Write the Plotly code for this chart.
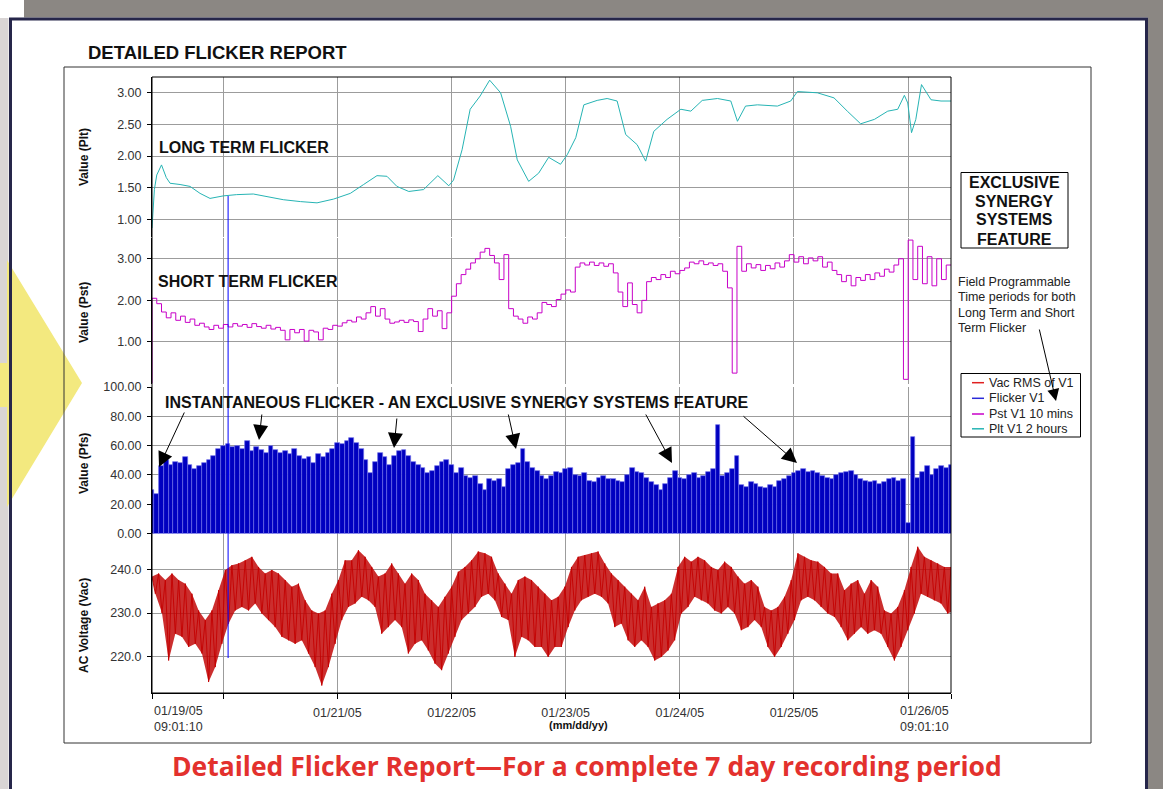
import plotly.graph_objects as go
from datetime import datetime, timedelta

W, H = 1163, 789
START = datetime(2005, 1, 19, 9, 1, 10)
SPAN_H = 168

# ------------------------------------------------------------------ data
# Long term flicker (Plt, 2 hour window) - hours after start / value
plt_hours = [0, 0.5, 1, 2, 3, 3.8, 5.9, 8, 10.1, 12.2, 15, 17.8, 21.3, 24.1, 27.6, 31.2,
             34.7, 38.2, 41.7, 44.5, 47.3, 49.4, 51.5, 54, 57.1, 60.1, 62.4, 63.4, 65.2,
             66.9, 69, 71, 73.3, 75.4, 76.8, 79.2, 81.3, 83.4, 85.9, 87.3, 89.1, 90.8,
             93.6, 95.7, 97.8, 99.6, 102.0, 103.8, 105.5, 108.3, 111.2, 113.3, 115.7,
             118.9, 121.7, 123.1, 124.8, 127.3, 131.5, 134.3, 135.7, 139.9, 143.4, 146.2,
             149.0, 151.9, 154.7, 156.8, 158.2, 158.9, 159.7, 160.6, 161.8, 163.8, 165.9, 168]
plt_values = [0.86, 1.47, 1.70, 1.86, 1.66, 1.57, 1.55, 1.52, 1.41, 1.33, 1.37, 1.39, 1.40,
              1.36, 1.31, 1.28, 1.26, 1.32, 1.41, 1.55, 1.69, 1.68, 1.52, 1.44, 1.47, 1.69,
              1.53, 1.62, 2.10, 2.74, 2.95, 3.20, 3.00, 2.47, 1.94, 1.60, 1.73, 1.98, 1.87,
              2.02, 2.29, 2.81, 2.88, 2.91, 2.87, 2.34, 2.18, 1.92, 2.39, 2.58, 2.74, 2.71,
              2.88, 2.91, 2.87, 2.55, 2.79, 2.81, 2.79, 2.87, 3.02, 3.00, 2.92, 2.71, 2.51,
              2.58, 2.71, 2.74, 2.96, 2.84, 2.37, 2.58, 3.13, 2.89, 2.87, 2.87]

# Short term flicker (Pst, 10 min) - one reading per hour from start
pst_values = [
    0.00, 2.05, 1.92, 1.72, 1.58, 1.70, 1.52, 1.62, 1.47, 1.55,
    1.40, 1.45, 1.36, 1.30, 1.40, 1.33, 1.42, 1.36, 1.44, 1.38,
    1.42, 1.35, 1.44, 1.37, 1.33, 1.40, 1.31, 1.35, 1.28, 1.05,
    1.30, 1.22, 1.30, 1.02, 1.28, 1.24, 1.05, 1.33, 1.30, 1.40,
    1.38, 1.46, 1.52, 1.48, 1.60, 1.55, 1.70, 1.85, 1.62, 1.80,
    1.55, 1.45, 1.48, 1.52, 1.47, 1.53, 1.49, 1.25, 1.55, 1.80,
    1.62, 1.75, 1.32, 1.70, 2.10, 2.40, 2.62, 2.75, 2.90, 3.00,
    3.16, 3.25, 3.08, 2.90, 2.50, 3.10, 1.80, 1.62, 1.55, 1.45,
    1.60, 1.55, 1.70, 1.95, 1.90, 1.85, 2.02, 2.15, 2.25, 2.20,
    2.80, 2.90, 2.85, 2.92, 2.84, 2.90, 2.82, 2.88, 2.66, 2.20,
    1.85, 2.42, 1.90, 1.70, 2.00, 2.45, 2.55, 2.50, 2.62, 2.55,
    2.70, 2.64, 2.72, 2.78, 2.92, 2.88, 2.95, 2.86, 2.90, 2.84,
    2.88, 2.70, 2.30, 0.25, 3.30, 2.70, 2.88, 2.78, 2.86, 2.72,
    2.84, 2.76, 2.90, 2.80, 2.95, 3.10, 2.92, 3.05, 2.88, 3.02,
    2.95, 3.05, 2.80, 2.92, 2.72, 2.62, 2.45, 2.60, 2.35, 2.55,
    2.48, 2.62, 2.50, 2.66, 2.58, 2.75, 2.68, 2.85, 3.00, 0.10,
    3.45, 2.50, 3.30, 2.40, 3.05, 2.35, 3.00, 2.50, 2.85]

# Instantaneous flicker (Pfs) - one bar per hour from start
pfs_values = [
    30, 27, 46, 50, 47, 49, 48, 52, 47, 44,
    46, 48, 50, 53, 58, 60, 61, 59, 60, 58,
    63, 56, 59, 57, 55, 60, 57, 55, 56, 54,
    58, 53, 51, 52, 48, 54, 52, 55, 58, 62,
    61, 63, 65, 62, 58, 50, 41, 49, 55, 52,
    47, 53, 56, 57, 53, 49, 47, 45, 41, 43,
    46, 49, 50, 47, 41, 45, 39, 38, 39, 34,
    30, 37, 36, 37, 32, 44, 47, 48, 58, 49,
    45, 43, 39, 37, 39, 42, 41, 44, 45, 40,
    39, 41, 36, 35, 38, 39, 37, 37, 36, 35,
    40, 45, 42, 41, 38, 35, 33, 30, 34, 38,
    43, 38, 37, 40, 41, 38, 39, 42, 44, 74,
    39, 41, 44, 53, 33, 32, 35, 34, 32, 31,
    33, 32, 36, 37, 39, 41, 43, 44, 42, 43,
    41, 39, 38, 37, 40, 41, 42, 43, 40, 37,
    36, 35, 36, 34, 35, 37, 38, 36, 37, 7,
    66, 38, 42, 46, 40, 44, 46, 45, 47]

# AC voltage (Vac RMS) - high / low of each 1.4 h slot across the 7 days
vac_high = [
    238.3, 239.0, 237.5, 239.0, 237.5, 236.7, 234.4, 230.6, 228.4, 230.6,
    235.2, 239.8, 240.9, 241.3, 242.0, 242.8, 240.5, 239.0, 239.8, 239.0,
    237.5, 236.0, 236.7, 232.9, 230.6, 229.9, 230.6, 234.4, 237.5, 242.0,
    242.0, 244.3, 242.8, 240.5, 238.3, 239.0, 241.3, 239.0, 236.7, 239.0,
    237.5, 234.4, 232.9, 231.4, 233.7, 236.0, 239.4, 240.5, 242.0, 244.0,
    243.6, 242.8, 239.0, 236.7, 234.4, 237.5, 238.3, 237.5, 236.0, 234.4,
    232.9,
    233.7, 236.0, 240.5, 242.8, 243.2, 243.6, 244.0, 241.3, 239.0, 237.5,
    236.0, 234.4, 232.9, 236.0, 231.4, 232.2, 232.9, 234.4, 240.5, 242.8,
    241.7, 242.8, 242.0, 240.5, 239.8, 241.7, 240.5, 238.3, 236.7, 237.5,
    236.0, 231.4, 230.6, 231.4, 233.7, 237.5, 243.6, 242.8, 242.0, 241.7,
    240.5, 239.0, 239.0, 235.2, 236.7, 237.5, 234.4, 237.5, 236.0, 230.6,
    229.9, 231.4, 235.2, 240.5, 245.1, 242.8, 242.0, 241.3, 240.5, 240.5]
vac_low = [
    234.4, 230.0, 219.2, 225.3, 224.6, 222.3, 223.0, 220.8, 214.3, 217.7,
    223.0, 227.6, 230.6, 231.4, 230.6, 232.2, 229.9, 228.4, 226.8, 224.6,
    223.8, 223.0, 223.8, 220.8, 217.7, 213.5, 217.7, 223.0, 228.4, 231.4,
    232.2, 233.7, 232.9, 231.4, 225.3, 226.8, 228.4, 226.8, 220.8, 223.0,
    223.8, 221.5, 218.5, 217.0, 220.8, 224.6, 228.4, 229.9, 231.4, 233.7,
    234.4, 232.9, 229.1, 228.4, 220.0, 224.6, 223.8, 222.3, 222.3, 220.0,
    222.3,
    222.3, 226.8, 230.6, 232.9, 233.7, 234.4, 233.7, 232.2, 226.8, 227.6,
    223.8, 222.3, 223.8, 222.3, 219.2, 220.0, 221.5, 223.8, 229.9, 231.4,
    233.7, 232.9, 232.2, 230.6, 229.9, 231.4, 229.9, 226.1, 226.8, 228.4,
    226.8, 222.3, 220.0, 222.3, 225.3, 228.4, 232.9, 233.7, 232.9, 231.4,
    229.9, 229.1, 226.8, 223.8, 225.3, 226.8, 225.3, 226.1, 225.3, 222.3,
    219.2, 222.3, 226.1, 229.9, 234.4, 233.7, 232.9, 232.2, 229.9, 230.6]

# single Flicker V1 excursion crossing all panels (hours after start)
glitch_hour = 16.0

# axis ticks
plt_ticks = [1.00, 1.50, 2.00, 2.50, 3.00]
pst_ticks = [1.00, 2.00, 3.00]
pfs_ticks = [0, 20, 40, 60, 80, 100]
vac_ticks = [220, 230, 240]
day_ticks = ["2005-01-19 09:01:10", "2005-01-20", "2005-01-21", "2005-01-22", "2005-01-23",
             "2005-01-24", "2005-01-25", "2005-01-26", "2005-01-26 09:01:10"]
day_labels = ["", "", "01/21/05", "01/22/05", "01/23/05", "01/24/05", "01/25/05", "", ""]
start_label = "01/19/05<br>09:01:10"
end_label = "01/26/05<br>09:01:10"

series_names = ["Vac RMS of V1", "Flicker V1", "Pst V1 10 mins", "Plt V1 2 hours"]
series_colors = ["#e02020", "#2a2ad8", "#c800c8", "#26b4b4"]

assert len(plt_hours) == len(plt_values)
assert len(pst_values) == SPAN_H + 1 and len(pfs_values) == SPAN_H + 1
assert len(vac_high) == len(vac_low)

# ------------------------------------------------------------------ helpers
def at(h):
    return START + timedelta(hours=h)

def px(x):
    return x / W

def py(y):
    return 1 - y / H

FONT = "Liberation Sans, Arial, sans-serif"
GRID = "#9c9c9c"

# ------------------------------------------------------------------ traces
hours = list(range(SPAN_H + 1))
step = SPAN_H / (len(vac_high) - 1)
hi_t = [at(i * step) for i in range(len(vac_high))]
lo_t = [at(i * step + step / 2) for i in range(len(vac_low))]
vac_x, vac_y = [], []
for th, tl, hi, lo in zip(hi_t, lo_t, vac_high, vac_low):
    vac_x += [th, tl]
    vac_y += [hi, lo]

fig = go.Figure()
# envelope of the rapidly varying RMS voltage
fig.add_trace(go.Scatter(x=hi_t + lo_t[::-1], y=vac_high + vac_low[::-1], mode="lines",
                         fill="toself", fillcolor="rgba(192,0,0,0.82)", line=dict(width=0),
                         hoverinfo="skip", showlegend=False, xaxis="x", yaxis="y"))
fig.add_trace(go.Scatter(x=vac_x, y=vac_y, mode="lines", name=series_names[0],
                         line=dict(color="#c40000", width=0.9), showlegend=False,
                         xaxis="x", yaxis="y"))
fig.add_trace(go.Bar(x=[at(h) for h in hours], y=pfs_values, name=series_names[1],
                     marker=dict(color="#0000c0", line=dict(width=0.7, color="#6a6ae6")),
                     width=3600 * 1000, showlegend=False, xaxis="x2", yaxis="y2"))
fig.add_trace(go.Scatter(x=[at(h) for h in hours], y=pst_values, mode="lines",
                         name=series_names[2], line=dict(color="#c800c8", width=1, shape="vh"),
                         showlegend=False, xaxis="x3", yaxis="y3"))
fig.add_trace(go.Scatter(x=[at(h) for h in plt_hours], y=plt_values, mode="lines",
                         name=series_names[3], line=dict(color="#26b4b4", width=1),
                         showlegend=False, xaxis="x4", yaxis="y4"))

# ------------------------------------------------------------------ axes
xr = [at(0), at(SPAN_H)]
xdom = [px(152), px(951)]
common_x = dict(type="date", range=xr, domain=xdom, tickvals=day_ticks, showgrid=True,
                gridcolor=GRID, gridwidth=1, zeroline=False, automargin=False)
tickfont = dict(family=FONT, size=12.5, color="#333")

layout_axes = dict(
    xaxis=dict(**common_x, anchor="y", ticktext=day_labels, ticks="outside", ticklen=5,
               tickcolor="#000", showline=True, linecolor="#000", linewidth=1,
               tickfont=tickfont, ticklabelstandoff=3),
    xaxis2=dict(**common_x, anchor="y2", matches="x", showticklabels=False, ticks=""),
    xaxis3=dict(**common_x, anchor="y3", matches="x", showticklabels=False, ticks=""),
    xaxis4=dict(**common_x, anchor="y4", matches="x", showticklabels=False, ticks=""),
)
common_y = dict(showgrid=True, gridcolor=GRID, gridwidth=1, zeroline=False, ticks="outside",
                ticklen=4, tickcolor="#000", showline=True, linecolor="#000", linewidth=1,
                tickfont=tickfont, ticklabelstandoff=3, automargin=False)
layout_axes.update(
    yaxis=dict(**common_y, anchor="x", domain=[py(693), py(534)], range=[211.8, 248.0],
               tickvals=vac_ticks, tickformat=".1f"),
    yaxis2=dict(**common_y, anchor="x2", domain=[py(533.5), py(387)], range=[0, 100],
                tickvals=pfs_ticks, tickformat=".2f"),
    yaxis3=dict(**common_y, anchor="x3", domain=[py(383.5), py(238)], range=[0, 3.5],
                tickvals=pst_ticks, tickformat=".2f"),
    yaxis4=dict(**common_y, anchor="x4", domain=[py(237), py(77)], range=[0.72, 3.25],
                tickvals=plt_ticks, tickformat=".2f"),
)

# ------------------------------------------------------------------ shapes
def rect(x0, y0, x1, y1, **kw):
    return dict(type="rect", xref="paper", yref="paper", x0=px(x0), x1=px(x1),
                y0=py(y1), y1=py(y0), **kw)

def path(points, **kw):
    d = "M " + " L ".join(f"{px(x):.5f},{py(y):.5f}" for x, y in points)
    return dict(type="path", xref="paper", yref="paper", path=d, **kw)

shapes = [
    rect(24, 0, 1163, 17.5, fillcolor="#8b8783", line=dict(width=0), layer="below"),
    rect(1148, 0, 1163, 789, fillcolor="#8b8783", line=dict(width=0), layer="below"),
    rect(0, 18, 8.5, 789, fillcolor="#d9d5d5", line=dict(width=0), layer="below"),
    path([(0, 363), (7, 363), (7, 260), (82, 383), (7, 507), (7, 407), (0, 407)],
         fillcolor="#f3e97f", line=dict(width=0), layer="below"),
    path([(10.5, 792), (10.5, 19), (1146.5, 19), (1146.5, 792)],
         line=dict(color="#26264a", width=3), layer="below"),
    rect(64, 67, 1091, 743, line=dict(color="#333", width=1), layer="below"),
    rect(961, 172.5, 1068, 248, line=dict(color="#000", width=1), layer="above"),
    rect(152, 77, 951, 693, line=dict(color="#000", width=1), layer="above"),
    dict(type="line", xref="x", yref="paper", x0=at(glitch_hour), x1=at(glitch_hour),
         y0=py(658), y1=py(196), line=dict(color="#0000ff", width=1), layer="above"),
    # legend frame
    rect(961, 373.5, 1080.5, 437, fillcolor="#ffffff", line=dict(color="#000", width=1),
         layer="above"),
]

# ------------------------------------------------------------------ annotations
def text(x, y, s, size=11, bold=False, xanchor="left", yanchor="middle", color="#111",
         align="left", angle=0, family=FONT):
    return dict(x=px(x), y=py(y), xref="paper", yref="paper", text=(f"<b>{s}</b>" if bold else s),
                showarrow=False, xanchor=xanchor, yanchor=yanchor, align=align,
                textangle=angle, font=dict(family=family, size=size, color=color))

def arrow(tail, head, size=3.0):
    return dict(x=px(head[0]), y=py(head[1]), xref="paper", yref="paper", text="",
                showarrow=True, ax=tail[0] - head[0], ay=tail[1] - head[1],
                arrowhead=2, arrowsize=size, arrowwidth=1, arrowcolor="#000", standoff=0)

annotations = [
    text(86, 53, "DETAILED FLICKER REPORT", size=18.5, bold=True),
    text(157, 147, "LONG TERM FLICKER", size=16, bold=True),
    text(156, 282, "SHORT TERM FLICKER", size=16, bold=True),
    text(163, 402, "INSTANTANEOUS FLICKER - AN EXCLUSIVE SYNERGY SYSTEMS FEATURE", size=16, bold=True),
    text(84, 157, "Value (Plt)", size=12, bold=True, xanchor="center", angle=-90),
    text(84, 313, "Value (Pst)", size=12, bold=True, xanchor="center", angle=-90),
    text(84, 464, "Value (Pfs)", size=12, bold=True, xanchor="center", angle=-90),
    text(84, 626, "AC Voltage (Vac)", size=12, bold=True, xanchor="center", angle=-90),
    text(152, 702, start_label, size=12.5, color="#333", yanchor="top"),
    text(951, 702, end_label, size=12.5, color="#333", xanchor="right", yanchor="top", align="right"),
    text(578, 725, "(mm/dd/yy)", size=11, bold=True, xanchor="center"),
    text(586.5, 766, "Detailed Flicker Report\u2014For a complete 7 day recording period", size=26.5,
         bold=True, xanchor="center", color="#e3312d", family="Open Sans, sans-serif"),
]
for yy, s in zip([182, 201, 220, 239], ["EXCLUSIVE", "SYNERGY", "SYSTEMS", "FEATURE"]):
    annotations.append(text(1014.5, yy, s, size=16, bold=True, xanchor="center"))
for yy, s in zip([282, 297, 312.5, 328], ["Field Programmable", "Time periods for both",
                                           "Long Term and Short", "Term Flicker"]):
    annotations.append(text(956, yy, s, size=12.5, color="#222"))
# legend entries
legend_y = [382.7, 398.3, 414.0, 428.8]
for yy, name, col in zip(legend_y, series_names, series_colors):
    annotations.append(text(987, yy, name, size=12.5, color="#222"))
    shapes.append(dict(type="line", xref="paper", yref="paper", x0=px(972), x1=px(984),
                       y0=py(yy), y1=py(yy), line=dict(color=col, width=1.5), layer="above"))
annotations += [
    arrow((185, 411), (159, 467)),
    arrow((262, 413), (259, 440)),
    arrow((397, 417), (394, 448)),
    arrow((508, 413), (516, 449)),
    arrow((645, 413), (672, 463)),
    arrow((742, 415), (797, 463)),
    arrow((1039, 328), (1056, 401), size=2.4),
]

fig.update_layout(
    width=W, height=H, autosize=False,
    margin=dict(l=0, r=0, t=0, b=0, pad=0),
    paper_bgcolor="#ffffff", plot_bgcolor="#ffffff",
    font=dict(family=FONT, size=11, color="#222"),
    bargap=0,
    showlegend=False,
    shapes=shapes,
    annotations=annotations,
    **layout_axes,
)

fig.write_html("out.html", config={"displayModeBar": False},
               post_script="document.body.style.margin='0px';document.body.style.overflow='hidden';")
